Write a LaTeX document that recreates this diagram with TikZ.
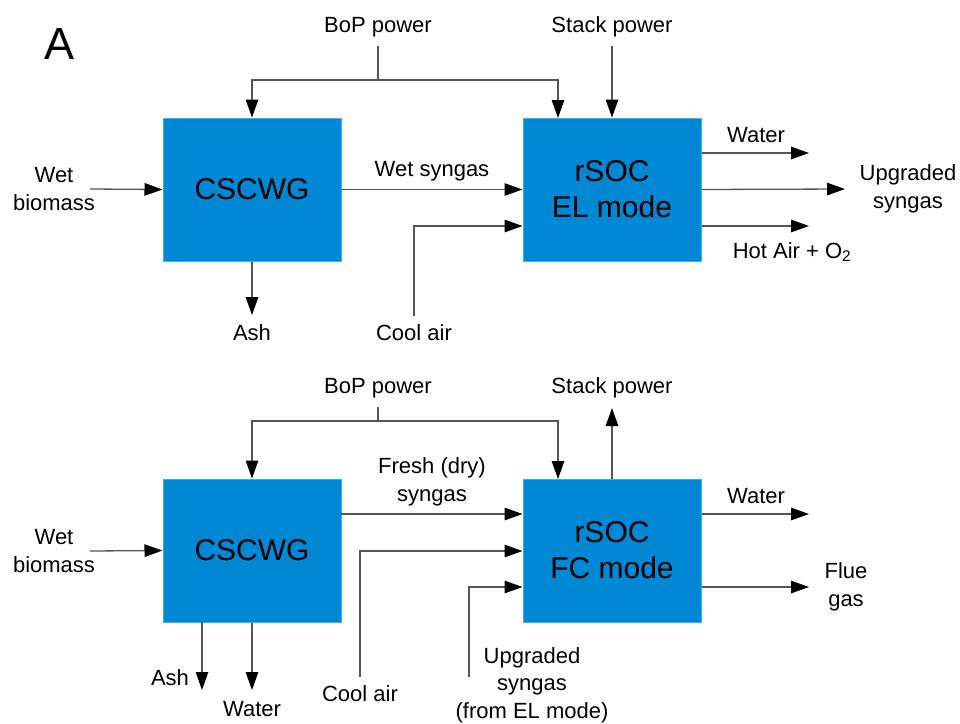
\documentclass[tikz,border=0pt]{standalone}
\usepackage{fontspec}
\setmainfont{Liberation Sans}
\usetikzlibrary{arrows.meta}
\definecolor{boxblue}{HTML}{0088D4}
\definecolor{boxedge}{HTML}{3AAEF2}
\definecolor{linegray}{HTML}{555555}
\begin{document}
\begin{tikzpicture}[x=1pt,y=-1pt,
  proc/.style={draw=boxedge,line width=1pt,fill=boxblue,minimum width=178pt,minimum height=143pt,inner sep=0pt,align=center,font=\fontsize{30}{36}\selectfont},
  lbl/.style={align=center,inner sep=0pt,font=\fontsize{22}{27.5}\selectfont},
  flow/.style={draw=linegray,line width=1.3pt,-{Triangle[length=18pt,width=12.5pt,color=black]}},
  wire/.style={draw=linegray,line width=1.3pt}]
\useasboundingbox (0,0) rectangle (960,723);
\node[font=\fontsize{45}{50}\selectfont,inner sep=0pt] (A) at (60,44) {A};
% ---------- top ----------
\node[proc] (cs1) at (252,189.5) {CSCWG};
\node[proc] (el) at (612,189.5) {rSOC\\EL mode};
\node[lbl] (bop1) at (378,27) {BoP power};
\node[lbl] (sp1) at (612,27) {Stack power};
\node[lbl] (wb1) at (54,189) {Wet\\biomass};
\node[lbl] (ws1) at (432,171) {Wet syngas};
\node[lbl] (ash1) at (252,333) {Ash};
\node[lbl] (ca1) at (414,333) {Cool air};
\node[lbl] (wat1) at (756,135) {Water};
\node[lbl] (us1) at (908,189) {Upgraded\\syngas};
\node[lbl] (ha1) at (792,252) {Hot Air + O\textsubscript{2}};
\coordinate (b1) at (378,80);
\coordinate (wbs1) at (90,189);
\coordinate (cas1) at (414,316);
\coordinate (cab1) at (414,226);
\coordinate (wate1) at (809,153);
\coordinate (use1) at (845,189);
\coordinate (hae1) at (809,226);
\coordinate (ashe1) at (252,315);
\draw[wire] (bop1.south |- 0,46) -- (b1);
\draw[flow] (b1) -| (cs1.north);
\draw[flow] (b1) -| (558,118);
\draw[flow] (sp1.south |- 0,46) -- (el.north);
\draw[flow] (wbs1) -- (cs1.west);
\draw[flow] (cs1.east) -- (el.west);
\draw[flow] (cs1.south) -- (ashe1);
\draw[flow] (cas1) -- (cab1) -- (cab1 -| el.west);
\draw[flow] (wate1 -| el.east) -- (wate1);
\draw[flow] (el.east) -- (use1);
\draw[flow] (hae1 -| el.east) -- (hae1);
% ---------- bottom ----------
\node[proc] (cs2) at (252,550.5) {CSCWG};
\node[proc] (fc) at (612,550.5) {rSOC\\FC mode};
\node[lbl] (bop2) at (378,388) {BoP power};
\node[lbl] (sp2) at (612,388) {Stack power};
\node[lbl] (wb2) at (54,551) {Wet\\biomass};
\node[lbl] (fs2) at (432,482) {Fresh (dry)\\syngas};
\node[lbl] (ash2) at (170,678) {Ash};
\node[lbl] (wat2b) at (252,709) {Water};
\node[lbl] (ca2) at (360,694) {Cool air};
\node[lbl] (us2) at (532,685) {Upgraded\\syngas\\(from EL mode)};
\node[lbl] (wat2) at (756,496) {Water};
\node[lbl] (fg2) at (846,587) {Flue\\gas};
\coordinate (b2) at (378,421);
\coordinate (wbs2) at (90,551);
\coordinate (cas2) at (360,677);
\coordinate (cab2) at (360,551);
\coordinate (uss2) at (469,677);
\coordinate (usb2) at (469,587);
\coordinate (fse2) at (341,514);
\coordinate (wate2) at (809,514);
\coordinate (fge2) at (809,587);
\coordinate (ashs2) at (202,622);
\coordinate (ashe2) at (202,690);
\coordinate (wats2) at (252,690);
\coordinate (spe2) at (612,408);
\draw[wire] (bop2.south |- 0,407) -- (b2);
\draw[flow] (b2) -| (cs2.north);
\draw[flow] (b2) -| (558,479);
\draw[flow] (fc.north) -- (spe2);
\draw[flow] (wbs2) -- (cs2.west);
\draw[flow] (fse2) -- (fse2 -| fc.west);
\draw[flow] (cas2) -- (cab2) -- (cab2 -| fc.west);
\draw[flow] (uss2) -- (usb2) -- (usb2 -| fc.west);
\draw[flow] (ashs2) -- (ashe2);
\draw[flow] (cs2.south) -- (wats2);
\draw[flow] (wate2 -| fc.east) -- (wate2);
\draw[flow] (fge2 -| fc.east) -- (fge2);
\end{tikzpicture}
\end{document}
